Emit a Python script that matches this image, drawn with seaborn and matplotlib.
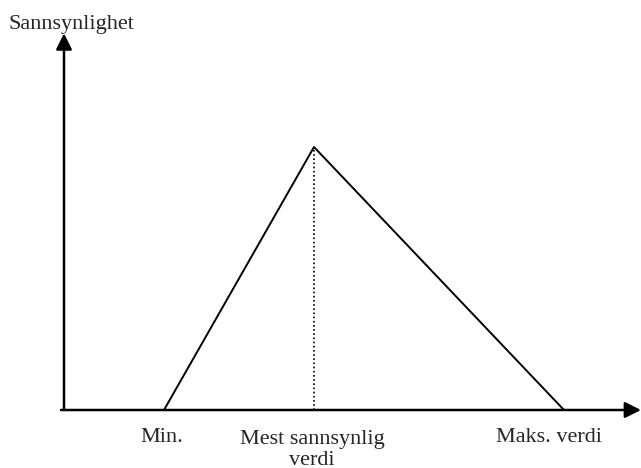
import numpy as np
import pandas as pd
import matplotlib.pyplot as plt
import seaborn as sns

sns.set_theme(style="white")
plt.rcParams['font.family'] = ['Liberation Serif', 'DejaVu Serif']

# triangular distribution: min, most likely, max
x_vals = [2, 5, 10]
y_vals = [0, 0.25, 0]
labels = ["Min.", "Mest sannsynlig\nverdi", "Maks. verdi"]
label_dx = [-2, -2, -15]    # pixel offsets of the labels
label_dy = [-32, -55, -32]
y_label = "Sannsynlighet"

df = pd.DataFrame({"x": x_vals, "y": y_vals})

fig = plt.figure(figsize=(6.41, 4.68), dpi=100)
ax = fig.add_axes([0, 0, 1, 1])
ax.set_xlim(-64 / 50, 577 / 50)
ax.set_ylim(-58 / 1052, 410 / 1052)
ax.set_axis_off()

# axes with arrows
arrow = dict(arrowstyle="-|>", lw=1.8, color="black", mutation_scale=24,
             shrinkA=0, shrinkB=0)
ax.annotate("", xy=(11.54, 0), xytext=(-0.06, 0), arrowprops=arrow)
ax.annotate("", xy=(0, 0.358), xytext=(0, 0), arrowprops=arrow)

# the triangle
sns.lineplot(data=df, x="x", y="y", ax=ax, color="black", lw=1.4, sort=False)
ax.vlines(x_vals[1], 0, y_vals[1], colors="black", linestyles=(0, (1, 1.5)), lw=1.2)

for xv, lab, dx, dy in zip(x_vals, labels, label_dx, label_dy):
    ax.annotate(lab, xy=(xv, 0), xytext=(dx, dy), textcoords="offset pixels",
                ha="center", va="baseline", fontsize=16, linespacing=1.15,
                multialignment="center")

ax.annotate(y_label, xy=(0, 0.358), xytext=(-56, 4), textcoords="offset pixels",
            ha="left", va="baseline", fontsize=16)

fig.savefig("out.png", dpi=100, facecolor="white")
